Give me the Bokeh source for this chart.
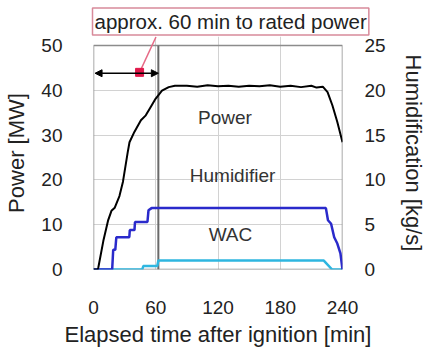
from bokeh.plotting import figure
from bokeh.models import Range1d, LinearAxis, FixedTicker, Label, Arrow, NormalHead, Title, AllLabels
from bokeh.embed import file_html
from bokeh.resources import INLINE

# ---- data ----
time_power = [0, 4, 4.7, 9.5, 14, 17.3, 20.5, 25, 28.4, 33, 34.7, 39.4, 45.7, 50.4, 55, 59.8,
              66, 72.5, 78.5, 90, 100, 110, 120, 130, 140, 150, 160, 170, 180, 190, 200, 210,
              215, 221, 225.6, 230.3, 235, 240]
power_mw = [0, 0, 0.5, 6.4, 10.9, 13.1, 13.8, 16.4, 19.6, 26.2, 28.4, 30.7, 33.3, 34.4, 36.2, 38.1,
            39.9, 40.7, 41.0, 41.0, 40.8, 41.1, 40.9, 41.0, 40.8, 41.0, 40.9, 41.1, 40.8, 41.0, 40.7, 41.0,
            40.6, 40.8, 39.6, 36.6, 32.9, 28.4]

time_humid = [0, 18, 19, 21, 22, 34.5, 35, 39.5, 40, 52, 53, 56, 224, 226, 229, 232, 235, 238, 240]
humidifier = [0, 0, 2.2, 2.2, 3.6, 3.6, 4.4, 4.4, 5.3, 5.3, 6.6, 6.85, 6.85, 5.5, 5.1, 3.6, 2.9, 1.8, 0]

time_wac = [0, 47, 48, 61.5, 62.5, 222, 230, 240]
wac = [0, 0, 0.38, 0.38, 1.0, 1.0, 0, 0]

x_ticks = [0, 60, 120, 180, 240]
power_ticks = [0, 10, 20, 30, 40, 50]
humid_ticks = [0, 5, 10, 15, 20, 25]
series_names = ["Power", "Humidifier", "WAC"]
annotation_text = "approx. 60 min to rated power"
rated_time = 62.5        # min, end of start-up window
arrow_level = 43.8       # MW
marker_time, marker_level = 44.4, 44.0
X_MAX, P_MAX = 240, 50

FONT = "Liberation Sans"
TXT = "#222222"

p = figure(width=428, height=354, output_backend="svg", toolbar_location=None,
           x_range=Range1d(0, X_MAX), y_range=Range1d(0, 52),
           min_border_left=93, min_border_right=81, min_border_top=36, min_border_bottom=85)
p.extra_y_ranges = {"h": Range1d(0, 26)}
p.outline_line_color = None
p.background_fill_color = "white"
p.border_fill_color = "white"

# annotation box as the title (drawn outside the frame)
p.title = Title(text=annotation_text, align="left", offset=-1, standoff=3,
                text_font=FONT, text_font_size="20.5px", text_font_style="normal",
                text_color=TXT, border_line_color="#d88a9a", border_line_width=1.5,
                background_fill_color="white", padding=2)

left = p.yaxis[0]
left.ticker = FixedTicker(ticks=power_ticks)
left.axis_label = "Power [MW]"
bottom = p.xaxis[0]
bottom.ticker = FixedTicker(ticks=x_ticks)
bottom.axis_label = "Elapsed time after ignition [min]"

right = LinearAxis(y_range_name="h", ticker=FixedTicker(ticks=humid_ticks),
                   axis_label="Humidification [kg/s]")
p.add_layout(right, "right")

for ax in [bottom, left, right]:
    ax.axis_line_color = None
    ax.major_tick_line_color = None
    ax.minor_tick_line_color = None
    ax.major_tick_out = 0
    ax.major_tick_in = 0
    ax.major_label_policy = AllLabels()
    ax.major_label_text_font = FONT
    ax.major_label_text_font_size = "19px"
    ax.major_label_text_color = TXT
    ax.axis_label_text_font = FONT
    ax.axis_label_text_font_size = "22px"
    ax.axis_label_text_font_style = "normal"
    ax.axis_label_text_color = TXT

bottom.major_label_standoff = 31
bottom.axis_label_standoff = 5
left.major_label_standoff = 31
left.axis_label_standoff = 9
right.major_label_standoff = 22
right.axis_label_standoff = 12

p.xgrid.ticker = FixedTicker(ticks=[60, 120, 180])
p.ygrid.ticker = FixedTicker(ticks=[10, 20, 30, 40])
p.xgrid.grid_line_color = "#d2d2d2"
p.ygrid.grid_line_color = "#d2d2d2"

# frame box
p.quad(left=0, right=X_MAX, bottom=0, top=P_MAX, fill_color=None,
       line_color="#8c8c8c", line_width=1.5)
# dark vertical line at ~60 min
p.segment(x0=rated_time, y0=0, x1=rated_time, y1=P_MAX, line_color="#6a6a6a", line_width=2)

# series
p.line(time_wac, wac, y_range_name="h", line_color="#2fb6e0", line_width=2.5)
p.line(time_humid, humidifier, y_range_name="h", line_color="#2a2acb", line_width=2.5)
p.line(time_power, power_mw, line_color="black", line_width=2)

# double arrow
p.add_layout(Arrow(start=NormalHead(size=7, fill_color="black", line_color="black"),
                   end=NormalHead(size=7, fill_color="black", line_color="black"),
                   x_start=1.5, y_start=arrow_level, x_end=rated_time, y_end=arrow_level,
                   line_width=1.5, line_color="black"))

# red leader + marker
p.segment(x0=marker_time, y0=marker_level, x1=60.2, y1=51.9, line_color="#e66a86", line_width=1.5)
p.scatter([marker_time], [marker_level], marker="square", size=8, fill_color="#e0184a",
          line_color="#e0184a")

# series labels
for name, xx, yy in zip(series_names, [126.7, 134, 132], [34.0, 21.0, 7.7]):
    p.add_layout(Label(x=xx, y=yy, text=name, text_font=FONT, text_font_size="19px",
                       text_color="#333333", text_align="center", text_baseline="middle"))

open("out.html", "w").write(file_html(p, INLINE))
